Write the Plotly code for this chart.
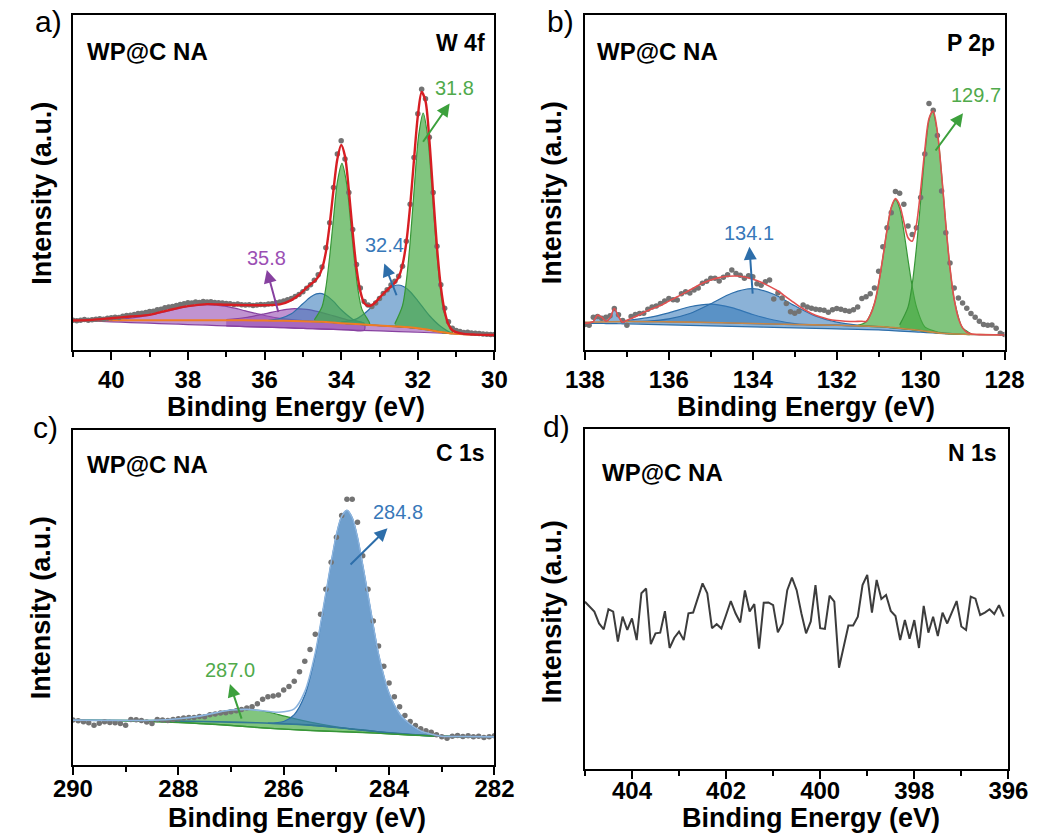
import plotly.graph_objects as go

FONT = "Arial, 'Liberation Sans', Helvetica, sans-serif"

# ===================== panel a : W 4f =====================
A_DOT_E = [41.0, 40.9, 40.8, 40.7, 40.6, 40.5, 40.4, 40.3, 40.2, 40.1,
           40.0, 39.9, 39.8, 39.7, 39.6, 39.5, 39.4, 39.3, 39.2, 39.1,
           39.0, 38.9, 38.8, 38.7, 38.6, 38.5, 38.4, 38.3, 38.2, 38.1,
           38.0, 37.9, 37.8, 37.7, 37.6, 37.5, 37.4, 37.3, 37.2, 37.1,
           37.0, 36.9, 36.8, 36.7, 36.6, 36.5, 36.4, 36.3, 36.2, 36.1,
           36.0, 35.9, 35.8, 35.7, 35.6, 35.5, 35.4, 35.3, 35.2, 35.1,
           35.0, 34.9, 34.8, 34.7, 34.6, 34.5, 34.4, 34.3, 34.2, 34.1,
           34.0, 33.9, 33.8, 33.7, 33.6, 33.5, 33.4, 33.3, 33.2, 33.1,
           33.0, 32.9, 32.8, 32.7, 32.6, 32.5, 32.4, 32.3, 32.2, 32.1,
           32.0, 31.9, 31.8, 31.7, 31.6, 31.5, 31.4, 31.3, 31.2, 31.1,
           31.0, 30.9, 30.8, 30.7, 30.6, 30.5, 30.4, 30.3, 30.2, 30.1, 30.0]
A_DOT_Y = [8.9, 8.7, 8.9, 9.1, 8.9, 9.0, 9.2, 9.3, 9.2, 9.5,
           9.6, 9.8, 9.7, 10.1, 10.3, 10.4, 10.6, 10.9, 11.0, 11.2,
           11.5, 11.6, 12.0, 12.2, 12.6, 12.8, 13.0, 13.3, 13.6, 13.8,
           14.1, 14.0, 14.3, 14.2, 14.5, 14.3, 14.4, 14.2, 14.1, 14.0,
           13.9, 13.8, 13.6, 13.7, 13.5, 13.4, 13.5, 13.3, 13.4, 13.6,
           13.5, 13.7, 13.8, 14.1, 14.3, 14.6, 15.0, 15.4, 16.0, 16.6,
           17.4, 18.4, 19.5, 20.8, 22.5, 24.8, 30.5, 38.0, 48.5, 58.5,
           62.5, 57.0, 47.0, 36.0, 25.5, 18.5, 14.5, 13.4, 13.0, 14.0,
           15.4, 16.9, 18.0, 19.4, 20.5, 22.0, 25.0, 32.5, 43.5, 57.5,
           70.5, 77.8, 75.0, 63.5, 47.0, 31.0, 19.5, 12.5, 8.4, 6.5,
           5.8, 5.5, 5.2, 5.3, 5.1, 5.0, 4.9, 4.8, 4.7, 4.6, 4.6]

A_FIT_E = [41.0, 40.5, 40.0, 39.5, 39.0, 38.5, 38.0, 37.5, 37.0, 36.5,
           36.0, 35.6, 35.3, 35.1, 34.9, 34.8, 34.7, 34.6, 34.5, 34.4,
           34.3, 34.2, 34.1, 34.0, 33.9, 33.8, 33.7, 33.6, 33.5, 33.4,
           33.3, 33.2, 33.1, 33.0, 32.9, 32.8, 32.7, 32.6, 32.5, 32.4,
           32.3, 32.2, 32.1, 32.0, 31.9, 31.8, 31.7, 31.6, 31.5, 31.4,
           31.3, 31.2, 31.1, 31.0, 30.8, 30.5, 30.0]
A_FIT_Y = [8.8, 9.0, 9.5, 10.0, 10.5, 11.9, 13.1, 13.7, 13.5, 13.4,
           13.4, 13.6, 14.9, 16.5, 18.6, 19.6, 20.5, 21.8, 24.3, 29.2,
           37.5, 47.8, 57.0, 61.2, 57.8, 47.7, 35.2, 24.4, 17.5, 14.0,
           13.2, 13.4, 14.3, 15.6, 16.8, 17.9, 19.0, 20.1, 21.8, 25.4,
           32.1, 43.0, 56.8, 69.8, 77.0, 74.3, 62.9, 46.5, 30.7, 18.9,
           11.6, 7.6, 5.9, 5.35, 4.8, 4.6, 4.5]

A_BG_E = [41.0, 40.0, 39.0, 38.0, 37.0, 36.0, 35.5, 35.0, 34.5, 34.0,
          33.5, 33.0, 32.5, 32.0, 31.7, 31.4, 31.1, 30.8, 30.5, 30.0]
A_BG_Y = [8.8, 8.85, 8.9, 8.9, 8.9, 8.8, 8.7, 8.6, 8.4, 8.0,
          7.7, 7.3, 7.0, 6.5, 6.0, 5.4, 4.9, 4.7, 4.6, 4.5]

# purple components (filled down to the lower baseline)
A_P1_E = [41.0, 40.5, 40.0, 39.5, 39.0, 38.5, 38.0, 37.5, 37.0, 36.5,
          36.0, 35.5, 35.0, 34.5, 34.0, 33.0, 32.0, 31.0, 30.0]
A_P1_Y = [8.8, 8.9, 9.05, 9.5, 10.4, 11.7, 13.0, 13.5, 13.0, 11.7,
          10.3, 9.3, 8.8, 8.5, 8.0, 7.3, 6.5, 4.9, 4.5]
A_P1_B = [8.8, 8.6, 8.4, 8.2, 8.0, 7.8, 7.6, 7.4, 7.2, 7.0,
          6.85, 6.65, 6.45, 6.25, 6.05, 5.7, 5.3, 4.85, 4.5]
A_P2_E = [37.0, 36.5, 36.0, 35.6, 35.3, 35.1, 34.9, 34.6, 34.2, 33.8, 33.4]
A_P2_Y = [9.1, 9.7, 10.8, 11.8, 12.3, 12.3, 12.15, 11.45, 10.2, 8.9, 8.0]
A_P2_B = [7.2, 7.0, 6.85, 6.7, 6.6, 6.5, 6.4, 6.3, 6.15, 6.0, 5.85]
# blue components
A_B1_E = [35.9, 35.6, 35.3, 35.0, 34.8, 34.65, 34.5, 34.35, 34.2, 34.0, 33.7, 33.4]
A_B1_Y = [8.85, 9.4, 10.8, 13.8, 15.8, 16.75, 16.85, 16.0, 14.5, 12.0, 9.2, 7.9]
A_B1_B = [8.75, 8.8, 8.7, 8.6, 8.5, 8.45, 8.4, 8.3, 8.2, 8.0, 7.8, 7.6]
A_B2_E = [34.0, 33.6, 33.3, 33.0, 32.8, 32.65, 32.5, 32.35, 32.2, 32.0, 31.7, 31.4, 31.1, 30.8]
A_B2_Y = [8.3, 9.3, 11.8, 15.5, 17.9, 19.0, 19.4, 18.8, 17.4, 14.7, 10.3, 7.0, 5.0, 4.8]
A_B2_B = [8.0, 7.7, 7.5, 7.3, 7.2, 7.1, 7.0, 6.9, 6.7, 6.5, 6.0, 5.4, 4.9, 4.7]
# green components
A_GA_E = [34.7, 34.5, 34.4, 34.3, 34.2, 34.1, 33.98, 33.86, 33.76, 33.66, 33.56, 33.46, 33.26]
A_GA_Y = [9.0, 12.9, 18.6, 27.9, 39.4, 50.1, 55.7, 49.9, 39.0, 27.4, 17.9, 12.2, 8.05]
A_GA_B = [8.5, 8.4, 8.35, 8.3, 8.2, 8.1, 8.0, 7.9, 7.85, 7.8, 7.7, 7.65, 7.55]
A_GB_E = [32.6, 32.4, 32.3, 32.2, 32.1, 31.98, 31.86, 31.74, 31.62, 31.52, 31.42, 31.32, 31.1]
A_GB_Y = [7.8, 13.2, 20.5, 32.3, 47.3, 63.9, 70.7, 63.5, 46.5, 31.2, 19.1, 11.4, 5.5]
A_GB_B = [7.05, 6.9, 6.8, 6.7, 6.6, 6.4, 6.2, 6.0, 5.8, 5.6, 5.4, 5.1, 4.9]

# ===================== panel b : P 2p =====================
B_DOT_E = [138.0, 137.9, 137.8, 137.7, 137.6, 137.5, 137.4, 137.3, 137.2, 137.1,
           137.0, 136.9, 136.8, 136.7, 136.6, 136.5, 136.4, 136.3, 136.2, 136.1,
           136.0, 135.9, 135.8, 135.7, 135.6, 135.5, 135.4, 135.3, 135.2, 135.1,
           135.0, 134.9, 134.8, 134.7, 134.6, 134.5, 134.4, 134.3, 134.2, 134.1,
           134.0, 133.9, 133.8, 133.7, 133.6, 133.5, 133.4, 133.3, 133.2, 133.1,
           133.0, 132.9, 132.8, 132.7, 132.6, 132.5, 132.4, 132.3, 132.2, 132.1,
           132.0, 131.9, 131.8, 131.7, 131.6, 131.5, 131.4, 131.3, 131.2, 131.1,
           131.0, 130.9, 130.8, 130.7, 130.6, 130.5, 130.4, 130.3, 130.2, 130.1,
           130.0, 129.9, 129.8, 129.7, 129.6, 129.5, 129.4, 129.3, 129.2, 129.1,
           129.0, 128.9, 128.8, 128.7, 128.6, 128.5, 128.4, 128.3, 128.2, 128.1, 128.0]
B_DOT_Y = [7.6, 7.4, 9.8, 10.0, 9.5, 9.8, 10.2, 12.4, 10.5, 8.8,
           7.4, 10.0, 10.6, 10.9, 11.0, 12.2, 12.8, 13.1, 13.9, 14.6,
           15.4, 15.0, 14.9, 16.8, 17.4, 17.0, 17.9, 18.5, 19.9, 20.5,
           21.4, 21.4, 20.6, 21.7, 22.5, 23.9, 22.8, 22.3, 21.4, 22.2,
           21.9, 19.8, 19.3, 20.4, 20.9, 15.2, 17.0, 15.5, 13.9, 11.4,
           11.0, 11.6, 13.4, 12.8, 12.5, 12.2, 12.0, 11.9, 11.3, 12.0,
           12.4, 12.2, 11.8, 11.6, 12.0, 12.8, 15.4, 15.9, 16.8, 18.5,
           23.5, 30.8, 36.5, 41.0, 47.3, 46.8, 43.5, 37.0, 34.5, 36.5,
           45.5, 58.5, 73.6, 71.6, 64.0, 47.5, 35.0, 26.0, 18.5, 15.5,
           14.0, 12.5, 10.9, 9.8, 8.6, 7.6, 7.4, 7.5, 6.5, 5.0, 4.6]

B_FIT_E = [138.0, 137.9, 137.8, 137.7, 137.6, 137.5, 137.4, 137.3, 137.2, 137.1,
           137.0, 136.8, 136.6, 136.4, 136.2, 136.0, 135.8, 135.6, 135.4, 135.2,
           135.0, 134.8, 134.6, 134.4, 134.2, 134.0, 133.8, 133.6, 133.4, 133.2,
           133.0, 132.8, 132.6, 132.4, 132.2, 132.0, 131.8, 131.6, 131.4, 131.3,
           131.2, 131.1, 131.0, 130.9, 130.8, 130.7, 130.6, 130.5, 130.4, 130.3,
           130.2, 130.1, 130.0, 129.9, 129.8, 129.7, 129.6, 129.5, 129.4, 129.3,
           129.2, 129.1, 129.0, 128.9, 128.8, 128.6, 128.4, 128.2, 128.0]
B_FIT_Y = [8.0, 8.1, 8.5, 10.4, 9.8, 8.6, 9.6, 12.4, 10.0, 8.3,
           8.9, 9.9, 11.2, 12.3, 13.3, 14.6, 15.9, 17.2, 18.6, 19.9,
           20.9, 21.6, 22.0, 22.1, 21.8, 21.1, 20.2, 19.0, 17.6, 15.8,
           14.0, 12.3, 10.9, 9.9, 9.2, 8.8, 8.6, 8.5, 8.6, 8.5,
           10.4, 13.9, 19.8, 27.6, 35.9, 42.55, 45.2, 43.3, 38.25, 33.5,
           32.5, 37.4, 47.7, 59.7, 69.1, 71.3, 65.0, 52.4, 37.6, 24.5,
           15.15, 9.5, 6.6, 5.3, 4.85, 4.6, 4.57, 4.53, 4.5]

B_BG_E = [138.0, 137.0, 136.0, 135.0, 134.0, 133.0, 132.0, 131.5, 131.0, 130.5,
          130.0, 129.5, 129.0, 128.5, 128.0]
B_BG_Y = [8.3, 8.5, 8.4, 8.2, 7.9, 7.6, 7.4, 7.2, 7.0, 6.5,
          5.8, 5.0, 4.7, 4.6, 4.5]

B_B2_E = [138.0, 137.9, 137.8, 137.7, 137.6, 137.5, 137.4, 137.3, 137.2, 137.1,
          137.0, 136.5, 136.0, 135.5, 135.0, 134.5, 134.0, 133.5, 133.0, 132.5,
          132.0, 131.0, 130.0, 129.0, 128.0]
B_B2_Y = [8.0, 8.1, 8.5, 10.4, 9.8, 8.6, 9.6, 12.4, 10.0, 8.3,
          8.8, 9.65, 11.1, 12.9, 13.7, 12.65, 10.6, 8.95, 7.9, 7.5,
          7.4, 7.0, 5.8, 4.7, 4.5]
B_B2_B = [8.0, 7.98, 7.96, 7.94, 7.92, 7.9, 7.88, 7.86, 7.84, 7.82,
          7.8, 7.65, 7.5, 7.35, 7.2, 7.05, 6.9, 6.75, 6.6, 6.45,
          6.3, 6.0, 5.3, 4.7, 4.5]
B_B1_E = [137.0, 136.5, 136.0, 135.5, 135.0, 134.5, 134.0, 133.5, 133.0, 132.5, 132.0, 131.5, 131.0]
B_B1_Y = [8.5, 8.65, 9.3, 10.9, 13.8, 16.95, 18.3, 16.65, 13.2, 10.1, 8.3, 7.4, 7.0]
B_B1_B = [8.5, 8.45, 8.4, 8.3, 8.2, 8.05, 7.9, 7.75, 7.6, 7.5, 7.4, 7.2, 7.0]
B_G2_E = [131.5, 131.3, 131.1, 131.0, 130.9, 130.8, 130.7, 130.6, 130.5, 130.4,
          130.3, 130.2, 130.1, 129.9, 129.6]
B_G2_Y = [7.35, 8.4, 13.9, 19.8, 27.6, 35.9, 42.45, 44.9, 42.3, 35.45,
          26.9, 18.9, 12.9, 6.9, 5.35]
B_G2_B = [7.2, 7.1, 7.0, 7.0, 6.9, 6.8, 6.65, 6.6, 6.5, 6.35,
          6.2, 6.1, 6.0, 5.64, 5.16]
B_G1_E = [130.5, 130.3, 130.2, 130.1, 130.0, 129.9, 129.8, 129.72, 129.6, 129.5,
          129.4, 129.3, 129.2, 129.0, 128.8]
B_G1_Y = [7.5, 12.8, 19.7, 30.5, 44.4, 58.4, 68.6, 71.3, 65.0, 52.4,
          37.6, 24.5, 15.15, 6.6, 4.85]
B_G1_B = [6.5, 6.2, 6.1, 6.0, 5.8, 5.6, 5.4, 5.3, 5.2, 5.0,
          4.9, 4.8, 4.75, 4.7, 4.65]

# ===================== panel c : C 1s =====================
C_DOT_E = [290.0, 289.9, 289.8, 289.7, 289.6, 289.5, 289.4, 289.3, 289.2, 289.1,
           289.0, 288.9, 288.8, 288.7, 288.6, 288.5, 288.4, 288.3, 288.2, 288.1,
           288.0, 287.9, 287.8, 287.7, 287.6, 287.5, 287.4, 287.3, 287.2, 287.1,
           287.0, 286.9, 286.8, 286.7, 286.6, 286.5, 286.4, 286.3, 286.2, 286.1,
           286.0, 285.9, 285.8, 285.7, 285.6, 285.5, 285.4, 285.3, 285.2, 285.1,
           285.0, 284.9, 284.8, 284.7, 284.6, 284.5, 284.4, 284.3, 284.2, 284.1,
           284.0, 283.9, 283.8, 283.7, 283.6, 283.5, 283.4, 283.3, 283.2, 283.1,
           283.0, 282.9, 282.8, 282.7, 282.6, 282.5, 282.4, 282.3, 282.2, 282.1, 282.0]
C_DOT_Y = [13.4, 13.2, 12.9, 12.6, 11.9, 12.5, 12.9, 12.7, 12.6, 12.4,
           11.9, 13.6, 13.5, 13.3, 12.8, 12.4, 13.6, 13.4, 13.3, 13.6,
           13.8, 14.0, 14.2, 14.2, 14.5, 14.4, 15.0, 15.2, 15.5, 15.6,
           15.9, 16.2, 16.6, 17.0, 17.4, 18.3, 19.6, 20.4, 20.6, 20.9,
           22.4, 23.4, 25.0, 27.8, 31.0, 34.5, 39.0, 45.0, 52.5, 60.5,
           68.0, 74.5, 79.3, 79.3, 72.5, 62.5, 52.5, 43.0, 35.5, 29.5,
           24.5, 20.4, 17.4, 14.8, 13.0, 11.8, 10.8, 10.2, 9.8, 9.0,
           8.4, 8.0, 8.6, 8.8, 8.5, 8.7, 8.4, 8.6, 8.2, 8.4, 8.7]

C_FIT_E = [290.0, 289.0, 288.5, 288.0, 287.6, 287.3, 287.0, 286.7, 286.4, 286.1,
           285.8, 285.6, 285.4, 285.2, 285.0, 284.9, 284.8, 284.7, 284.6, 284.4,
           284.2, 284.0, 283.8, 283.6, 283.4, 283.2, 283.0, 282.6, 282.0]
C_FIT_Y = [13.4, 13.3, 13.35, 13.8, 14.6, 15.55, 16.4, 16.6, 16.2, 15.75,
           16.75, 21.9, 33.55, 51.3, 68.75, 74.2, 76.0, 73.8, 67.95, 50.75,
           33.1, 21.4, 15.25, 12.1, 10.15, 9.2, 8.6, 8.5, 8.4]

C_BG_E = [290.0, 289.0, 288.0, 287.0, 286.5, 286.0, 285.5, 285.0, 284.5, 284.0, 283.5, 283.0, 282.0]
C_BG_Y = [13.4, 13.3, 13.1, 12.8, 12.6, 12.3, 11.9, 11.2, 10.4, 9.6, 9.0, 8.6, 8.4]
C_LOW_Y = [13.4, 13.2, 12.7, 11.8, 11.2, 10.7, 10.3, 10.0, 9.7, 9.3, 8.9, 8.6, 8.4]

C_G_E = [290.0, 289.0, 288.5, 288.0, 287.6, 287.3, 287.0, 286.7, 286.4, 286.1,
         285.8, 285.5, 285.0, 284.5, 284.0, 283.0, 282.0]
C_G_Y = [13.4, 13.3, 13.35, 13.8, 14.6, 15.55, 16.4, 16.6, 16.15, 15.05,
         13.85, 12.8, 11.4, 10.4, 9.6, 8.6, 8.4]
C_G_B = [13.4, 13.2, 12.95, 12.7, 12.35, 12.1, 11.8, 11.45, 11.1, 10.8,
         10.55, 10.3, 10.0, 9.7, 9.3, 8.6, 8.4]
C_B_E = [286.3, 286.0, 285.8, 285.6, 285.4, 285.2, 285.0, 284.9, 284.8, 284.7,
         284.6, 284.4, 284.2, 284.0, 283.8, 283.6, 283.4, 283.2, 283.0, 282.6]
C_B_Y = [12.5, 13.0, 15.05, 20.8, 32.95, 51.0, 68.6, 74.15, 76.0, 73.8,
         67.95, 50.75, 33.1, 21.4, 15.25, 12.1, 10.15, 9.2, 8.6, 8.5]
C_B_B = [12.45, 12.3, 12.15, 12.0, 11.75, 11.5, 11.2, 11.05, 10.9, 10.7,
         10.55, 10.25, 9.9, 9.6, 9.35, 9.1, 8.85, 8.7, 8.6, 8.5]

# ===================== panel d : N 1s =====================
D_E = [405.0, 404.9, 404.8, 404.7, 404.6, 404.5, 404.4, 404.3, 404.2, 404.1,
       404.0, 403.9, 403.8, 403.7, 403.6, 403.5, 403.4, 403.3, 403.2, 403.1,
       403.0, 402.9, 402.8, 402.7, 402.6, 402.5, 402.4, 402.3, 402.2, 402.1,
       402.0, 401.9, 401.8, 401.7, 401.6, 401.5, 401.4, 401.3, 401.2, 401.1,
       401.0, 400.9, 400.8, 400.7, 400.6, 400.5, 400.4, 400.3, 400.2, 400.1,
       400.0, 399.9, 399.8, 399.7, 399.6, 399.5, 399.4, 399.3, 399.2, 399.1,
       399.0, 398.9, 398.8, 398.7, 398.6, 398.5, 398.4, 398.3, 398.2, 398.1,
       398.0, 397.9, 397.8, 397.7, 397.6, 397.5, 397.4, 397.3, 397.2, 397.1,
       397.0, 396.9, 396.8, 396.7, 396.6, 396.5, 396.4, 396.3, 396.2, 396.1]
D_Y = [49.2, 47.7, 46.3, 42.8, 41.1, 47.0, 46.3, 37.5, 44.8, 40.9,
       44.3, 37.9, 51.7, 53.1, 36.7, 39.9, 40.1, 46.4, 35.6, 38.6,
       40.4, 37.9, 45.8, 46.0, 50.2, 54.6, 51.7, 41.4, 42.6, 41.3,
       45.3, 49.4, 45.8, 43.1, 52.5, 46.3, 48.5, 35.4, 48.9, 49.0,
       48.2, 40.2, 42.8, 52.6, 56.3, 52.6, 45.8, 39.9, 43.4, 54.1,
       41.4, 41.2, 51.0, 49.2, 29.8, 36.0, 42.2, 42.2, 44.8, 54.1,
       57.1, 46.0, 55.6, 50.0, 51.2, 46.5, 45.0, 37.9, 43.8, 38.3,
       43.8, 35.6, 48.0, 40.1, 44.8, 39.1, 46.0, 42.8, 46.3, 49.4,
       41.9, 40.9, 50.7, 50.1, 45.3, 46.0, 47.0, 45.6, 48.2, 44.8]

X_RANGES = {"a": [41, 30], "b": [138, 128], "c": [290, 282], "d": [405, 396]}

# colours
GREEN_FILL = "rgba(70,170,65,0.68)"
GREEN_LINE = "rgb(55,150,55)"
BLUE_FILL = "rgba(55,122,186,0.58)"
BLUE_LINE = "rgb(45,110,170)"
PURPLE_FILL = "rgba(150,75,178,0.6)"
PURPLE_LINE = "rgb(135,65,160)"
DOT_COLOR = "rgb(115,115,115)"

fig = go.Figure()


def peak(xs, top, base, fill, line, xa, ya):
    fig.add_trace(go.Scatter(
        x=list(xs) + list(xs)[::-1], y=list(top) + list(base)[::-1],
        mode="lines", fill="toself", fillcolor=fill,
        line=dict(color=line, width=1.2, shape="spline", smoothing=0.8),
        xaxis=xa, yaxis=ya, hoverinfo="skip"))


def curve(xs, ys, color, width, xa, ya, shape="spline"):
    fig.add_trace(go.Scatter(x=xs, y=ys, mode="lines",
                             line=dict(color=color, width=width, shape=shape, smoothing=0.8),
                             xaxis=xa, yaxis=ya, hoverinfo="skip"))


def dots(xs, ys, xa, ya):
    fig.add_trace(go.Scatter(x=xs, y=ys, mode="markers",
                             marker=dict(color=DOT_COLOR, size=5.5),
                             xaxis=xa, yaxis=ya, hoverinfo="skip"))


# panel a
peak(A_P1_E, A_P1_Y, A_P1_B, PURPLE_FILL, PURPLE_LINE, "x", "y")
peak(A_P2_E, A_P2_Y, A_P2_B, PURPLE_FILL, PURPLE_LINE, "x", "y")
peak(A_B1_E, A_B1_Y, A_B1_B, BLUE_FILL, BLUE_LINE, "x", "y")
peak(A_B2_E, A_B2_Y, A_B2_B, BLUE_FILL, BLUE_LINE, "x", "y")
peak(A_GA_E, A_GA_Y, A_GA_B, GREEN_FILL, GREEN_LINE, "x", "y")
peak(A_GB_E, A_GB_Y, A_GB_B, GREEN_FILL, GREEN_LINE, "x", "y")
curve(A_BG_E, A_BG_Y, "rgb(240,125,35)", 2, "x", "y")
dots(A_DOT_E, A_DOT_Y, "x", "y")
curve(A_FIT_E, A_FIT_Y, "rgb(215,30,35)", 2.4, "x", "y")

# panel b
peak(B_B2_E, B_B2_Y, B_B2_B, BLUE_FILL, BLUE_LINE, "x2", "y2")
peak(B_B1_E, B_B1_Y, B_B1_B, BLUE_FILL, BLUE_LINE, "x2", "y2")
peak(B_G2_E, B_G2_Y, B_G2_B, GREEN_FILL, GREEN_LINE, "x2", "y2")
peak(B_G1_E, B_G1_Y, B_G1_B, GREEN_FILL, GREEN_LINE, "x2", "y2")
curve(B_BG_E, B_BG_Y, "rgb(200,135,70)", 1.6, "x2", "y2")
dots(B_DOT_E, B_DOT_Y, "x2", "y2")
curve(B_FIT_E, B_FIT_Y, "rgb(225,80,80)", 1.6, "x2", "y2")

# panel c
peak(C_G_E, C_G_Y, C_G_B, GREEN_FILL, GREEN_LINE, "x3", "y3")
peak(C_B_E, C_B_Y, C_B_B, "rgba(55,122,186,0.72)", BLUE_LINE, "x3", "y3")
curve(C_BG_E, C_BG_Y, "rgb(50,120,150)", 1.6, "x3", "y3")
curve(C_BG_E, C_LOW_Y, GREEN_LINE, 1.4, "x3", "y3")
dots(C_DOT_E, C_DOT_Y, "x3", "y3")
curve(C_FIT_E, C_FIT_Y, "rgb(140,180,222)", 1.6, "x3", "y3")

# panel d
curve(D_E, D_Y, "rgb(60,60,60)", 2, "x4", "y4", shape="linear")

W = 1064.0
H = 838.0
DOMAINS = {
    "a": ([55 / W, 493 / W], [1 - 350 / H, 1 - 15 / H]),
    "b": ([587 / W, 1023 / W], [1 - 350 / H, 1 - 15 / H]),
    "c": ([55 / W, 493 / W], [1 - 765 / H, 1 - 430 / H]),
    "d": ([587 / W, 1027 / W], [1 - 769 / H, 1 - 429 / H]),
}
STANDOFF = {"a": -1, "b": -1, "c": -7, "d": -9}
tickfont = dict(family=FONT, size=24, color="black", weight="bold")
layout = dict(width=1064, height=838, margin=dict(l=0, r=0, t=0, b=0),
              paper_bgcolor="white", plot_bgcolor="white", showlegend=False)
for i, key in enumerate(["a", "b", "c", "d"], start=1):
    sfx = "" if i == 1 else str(i)
    xd, yd = DOMAINS[key]
    layout["xaxis" + sfx] = dict(
        domain=xd, range=X_RANGES[key], anchor="y" + sfx,
        showline=True, linecolor="black", linewidth=2, mirror=True,
        ticks="outside", ticklen=8, tickwidth=2, tickcolor="black",
        tick0=0, dtick=2, showgrid=False, zeroline=False, tickfont=tickfont,
        ticklabelstandoff=STANDOFF[key],
        minor=dict(ticks="outside", ticklen=5, tickwidth=2, tickcolor="black",
                   tick0=0, dtick=1, showgrid=False))
    layout["yaxis" + sfx] = dict(
        domain=yd, range=[0, 100], anchor="x" + sfx,
        showline=True, linecolor="black", linewidth=2, mirror=True,
        ticks="", showticklabels=False, showgrid=False, zeroline=False)
fig.update_layout(**layout)

ann = []


def txt(text, x, y, xref, yref, size, color="black", bold=False, xanchor="center",
        yanchor="middle", angle=0):
    ann.append(dict(text=text, x=x, y=y, xref=xref, yref=yref, showarrow=False,
                    xanchor=xanchor, yanchor=yanchor, textangle=angle,
                    font=dict(family=FONT, size=size, color=color,
                              weight="bold" if bold else "normal")))


def arrow(x0, y0, x1, y1, xref, yref, color):
    ann.append(dict(text="", x=x1, y=y1, ax=x0, ay=y0, xref=xref, yref=yref,
                    axref=xref, ayref=yref, showarrow=True, arrowhead=2,
                    arrowsize=1.3, arrowwidth=2, arrowcolor=color,
                    standoff=0, startstandoff=0))


# panel letters
txt("a)", 30 / W, 1 - 21 / H, "paper", "paper", 30)
txt("b)", 562 / W, 1 - 21 / H, "paper", "paper", 30)
txt("c)", 26 / W, 1 - 428 / H, "paper", "paper", 30)
txt("d)", 557 / W, 1 - 426 / H, "paper", "paper", 30)

# axis titles
for xc, yc in [(287, 407), (817, 407), (288, 818), (822, 818)]:
    txt("Binding Energy (eV)", xc / W, 1 - yc / H, "paper", "paper", 27, bold=True)
for xc, yc in [(22.5, 193), (553, 193), (22, 608), (553, 612)]:
    txt("Intensity (a.u.)", xc / W, 1 - yc / H, "paper", "paper", 27, bold=True, angle=-90)

# sample / region labels
txt("WP@C NA", 40.675, 89.0, "x", "y", 24, bold=True, xanchor="left")
txt("W 4f", 30.2, 91.6, "x", "y", 23, bold=True, xanchor="right")
txt("WP@C NA", 137.75, 89.0, "x2", "y2", 24, bold=True, xanchor="left")
txt("P 2p", 128.18, 91.6, "x2", "y2", 23, bold=True, xanchor="right")
txt("WP@C NA", 289.78, 89.6, "x3", "y3", 24, bold=True, xanchor="left")
txt("C 1s", 282.15, 93.0, "x3", "y3", 23, bold=True, xanchor="right")
txt("WP@C NA", 404.69, 87.1, "x4", "y4", 24, bold=True, xanchor="left")
txt("N 1s", 396.21, 92.9, "x4", "y4", 23, bold=True, xanchor="right")

# peak labels and arrows
GREEN_T = "rgb(80,170,75)"
BLUE_T = "rgb(55,120,185)"
PURPLE_T = "rgb(155,80,180)"
txt("31.8", 31.04, 78.2, "x", "y", 20, GREEN_T)
arrow(31.89, 61.7, 31.17, 73.6, "x", "y", "rgb(60,160,60)")
txt("32.4", 32.875, 31.3, "x", "y", 20, BLUE_T)
arrow(32.54, 15.9, 32.875, 25.8, "x", "y", BLUE_LINE)
txt("35.8", 35.96, 27.4, "x", "y", 20, PURPLE_T)
arrow(35.63, 10.9, 35.94, 23.9, "x", "y", PURPLE_LINE)

txt("129.7", 128.67, 76.1, "x2", "y2", 20, GREEN_T)
arrow(129.67, 59.1, 128.99, 70.7, "x2", "y2", "rgb(60,160,60)")
txt("134.1", 134.08, 34.9, "x2", "y2", 20, BLUE_T)
arrow(134.0, 16.4, 134.08, 30.8, "x2", "y2", BLUE_LINE)

txt("284.8", 283.84, 75.5, "x3", "y3", 20, BLUE_T)
arrow(284.76, 59.4, 284.03, 70.7, "x3", "y3", BLUE_LINE)
txt("287.0", 287.02, 28.4, "x3", "y3", 20, GREEN_T)
arrow(286.79, 13.4, 287.02, 24.2, "x3", "y3", "rgb(60,160,60)")

fig.update_layout(annotations=ann)
fig.write_html("out.html")
